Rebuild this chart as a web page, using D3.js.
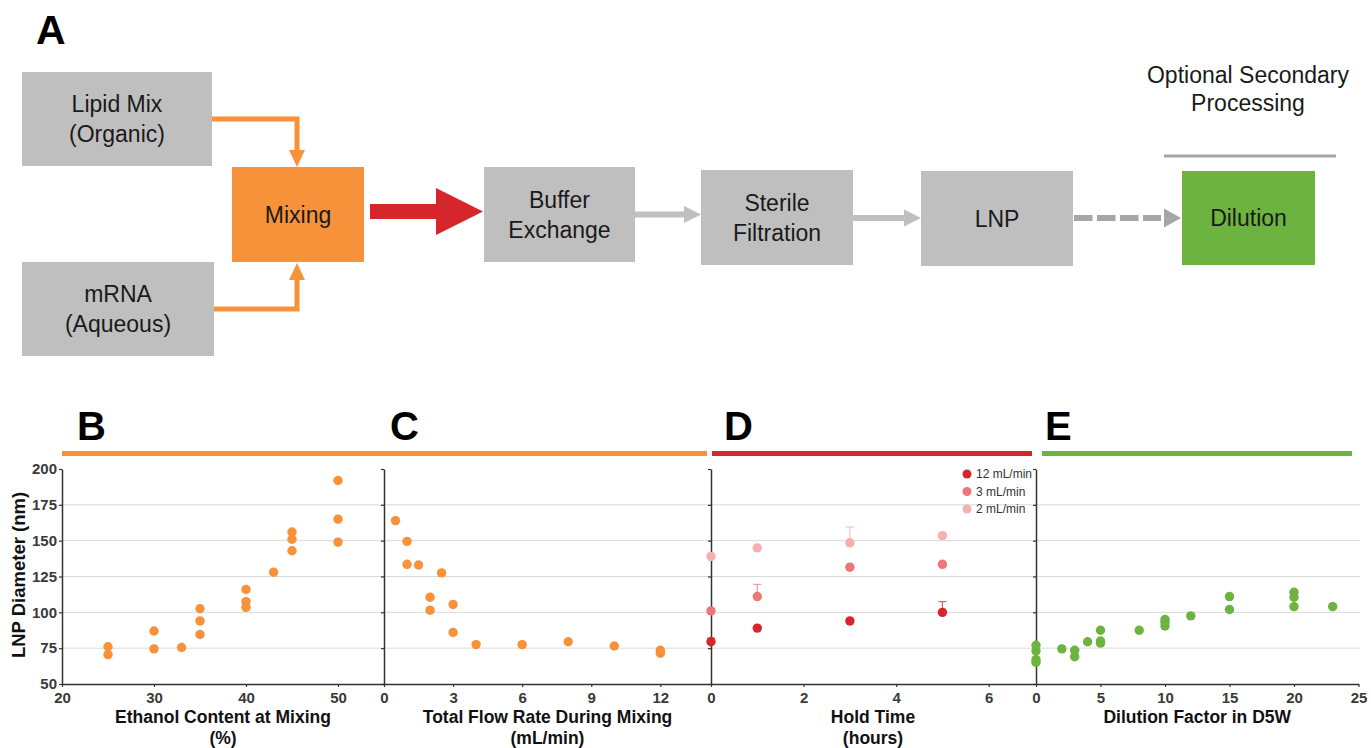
<!DOCTYPE html>
<html>
<head>
<meta charset="utf-8">
<script src="https://cdn.jsdelivr.net/npm/d3@7"></script>
<style>
  body { margin: 0; background: #fff; }
  svg text { font-family: "Liberation Sans", Arial, sans-serif; }
</style>
</head>
<body>
<div id="chart"></div>
<script>
// --- Panel B : ethanol content
var ethanolX = [25, 25, 30, 30, 33, 35, 35, 35, 40, 40, 40, 43, 45, 45, 45, 50, 50, 50];
var ethanolY = [76, 70.5, 87, 74.5, 75.5, 102.5, 94, 84.5, 116, 107.5, 103.5, 128, 156, 151, 143, 192, 165, 149];

// --- Panel C : total flow rate
var flowX = [0.5, 1, 1, 1.5, 2.5, 2, 2, 3, 3, 4, 6, 8, 10, 12, 12];
var flowY = [164, 149.5, 133.5, 133, 127.5, 110.5, 101.5, 105.5, 86, 77.5, 77.5, 79.5, 76.5, 73.5, 71.5];

// --- Panel D : hold time, three flow rates
var holdTimes = [0, 1, 3, 5];
var holdSeries = ['12 mL/min', '3 mL/min', '2 mL/min'];
var hold12 = [79.5, 89, 94, 100];
var hold3 = [101, 111, 131.5, 133.5];
var hold2 = [139, 145, 148.5, 153.5];
var holdErr12 = [2.5, 0, 0, 7.5];
var holdErr3 = [0, 8.5, 0, 0];
var holdErr2 = [0, 0, 11, 0];

// --- Panel E : dilution factor
var dilutionX = [0, 0, 0, 0, 2, 3, 3, 4, 5, 5, 5, 8, 10, 10, 10, 12, 15, 15, 20, 20, 20, 23];
var dilutionY = [77, 73, 67, 65, 74.5, 73.5, 69, 79.5, 87.5, 80, 78.5, 87.5, 95, 93, 90.5, 97.5, 111, 102, 114, 110.5, 104, 104];

// --- Ticks and labels
var yTicks = [50, 75, 100, 125, 150, 175, 200];
var ticksB = [20, 30, 40, 50];
var ticksC = [0, 3, 6, 9, 12];
var ticksD = [0, 2, 4, 6];
var ticksE = [0, 5, 10, 15, 20, 25];
var panelLetters = ['B', 'C', 'D', 'E'];
var xTitles = [
  ['Ethanol Content at Mixing', '(%)'],
  ['Total Flow Rate During Mixing', '(mL/min)'],
  ['Hold Time', '(hours)'],
  ['Dilution Factor in D5W']
];

// --- Flow diagram labels
var diagramSteps = [
  ['Lipid Mix', '(Organic)'], ['mRNA', '(Aqueous)'], ['Mixing'],
  ['Buffer', 'Exchange'], ['Sterile', 'Filtration'], ['LNP'], ['Dilution']
];
var optionalLabel = ['Optional Secondary', 'Processing'];

var ORANGE = '#f7923a', RED = '#d7262b', GREEN = '#6db33f', GREY = '#bfbfbf';
var holdColors = ['#d7262b', '#ee7676', '#f6b0b0'];

var width = 1371, height = 748;
var svg = d3.select('#chart').append('svg')
  .attr('width', width)
  .attr('height', height);

// =========================== Diagram (A) ===========================
svg.append('text').text('A')
  .attr('x', 36).attr('y', 44)
  .style('font-size', '41px').style('font-weight', 'bold');

// box layout: x, y, w, h, fill
var boxLayout = [
  [22, 72, 190, 94, GREY],
  [22, 262, 192, 94, GREY],
  [232, 167, 132, 95, ORANGE],
  [484, 167, 151, 95, GREY],
  [701, 170, 152, 95, GREY],
  [921, 171, 152, 95, GREY],
  [1182, 171, 133, 94, GREEN]
];

var boxes = svg.append('g').selectAll('g').data(diagramSteps).enter().append('g');
boxes.append('rect')
  .attr('x', function(d, i) { return boxLayout[i][0]; })
  .attr('y', function(d, i) { return boxLayout[i][1]; })
  .attr('width', function(d, i) { return boxLayout[i][2]; })
  .attr('height', function(d, i) { return boxLayout[i][3]; })
  .attr('fill', function(d, i) { return boxLayout[i][4]; });
boxes.each(function(d, i) {
  var b = boxLayout[i];
  var cx = b[0] + b[2] / 2, cy = b[1] + b[3] / 2;
  var g = d3.select(this);
  d.forEach(function(line, j) {
    var off = d.length === 1 ? 0 : (j === 0 ? -15 : 15);
    g.append('text').text(line)
      .attr('x', cx).attr('y', cy + off + 8)
      .attr('text-anchor', 'middle')
      .attr('fill', '#1a1a1a')
      .style('font-size', '23px');
  });
});

// orange connectors into the mixer
var conn = svg.append('g');
conn.append('path').attr('d', 'M212,119H297V151')
  .attr('fill', 'none').attr('stroke', ORANGE).attr('stroke-width', 5);
conn.append('path').attr('d', 'M289,150L305,150L297,167Z').attr('fill', ORANGE);
conn.append('path').attr('d', 'M214,309H297V279')
  .attr('fill', 'none').attr('stroke', ORANGE).attr('stroke-width', 5);
conn.append('path').attr('d', 'M289,280L305,280L297,263Z').attr('fill', ORANGE);

// red block arrow
conn.append('path')
  .attr('d', 'M370,204H436V188L483,211.5L436,235V219H370Z')
  .attr('fill', RED);

// grey arrows
function greyArrow(x0, x1, y, color) {
  conn.append('rect').attr('x', x0).attr('y', y - 3).attr('width', x1 - x0 - 16).attr('height', 6).attr('fill', color);
  conn.append('path').attr('d', 'M' + (x1 - 17) + ',' + (y - 8.5) + 'L' + x1 + ',' + y + 'L' + (x1 - 17) + ',' + (y + 8.5) + 'Z').attr('fill', color);
}
greyArrow(635, 701, 214.5, '#c0c0c0');
greyArrow(853, 921, 218, '#c0c0c0');

// dashed arrow to dilution
conn.append('line')
  .attr('x1', 1074).attr('x2', 1161).attr('y1', 218).attr('y2', 218)
  .attr('stroke', '#a6a6a6').attr('stroke-width', 6)
  .attr('stroke-dasharray', '18.5,4.5');
conn.append('path').attr('d', 'M1164,208.5L1181,218L1164,227.5Z').attr('fill', '#a6a6a6');

// optional processing header
conn.append('line')
  .attr('x1', 1164).attr('x2', 1336).attr('y1', 156).attr('y2', 156)
  .attr('stroke', '#a6a6a6').attr('stroke-width', 3);
optionalLabel.forEach(function(t, j) {
  conn.append('text').text(t)
    .attr('x', 1248).attr('y', 83 + j * 28)
    .attr('text-anchor', 'middle')
    .attr('fill', '#1a1a1a')
    .style('font-size', '23px');
});

// =========================== Plots (B-E) ===========================
var y = d3.scaleLinear().domain([50, 200]).range([684, 469]);

var xB = d3.scaleLinear().domain([20, 55]).range([62, 384]);
var xC = d3.scaleLinear().domain([0, 14.2]).range([384, 711]);
var xD = d3.scaleLinear().domain([0, 7]).range([711, 1035]);
var xE = d3.scaleLinear().domain([0, 25]).range([1036, 1358.5]);
var panels = [
  { x: xB, ticks: ticksB, color: ORANGE },
  { x: xC, ticks: ticksC, color: ORANGE },
  { x: xD, ticks: ticksD, color: RED },
  { x: xE, ticks: ticksE, color: GREEN }
];

// --- gridlines, full width
svg.append('g').selectAll('line').data(yTicks.slice(1, -1)).enter().append('line')
  .attr('x1', 62).attr('x2', 1360)
  .attr('y1', function(d) { return y(d); })
  .attr('y2', function(d) { return y(d); })
  .attr('stroke', '#d9d9d9').attr('stroke-width', 1);

// --- coloured section bars
var bars = [[62, 707, ORANGE], [712, 1032, RED], [1042, 1352, GREEN]];
svg.append('g').selectAll('rect').data(bars).enter().append('rect')
  .attr('x', function(d) { return d[0]; })
  .attr('width', function(d) { return d[1] - d[0]; })
  .attr('y', 451).attr('height', 5)
  .attr('fill', function(d) { return d[2]; });

// --- panel letters
var letterX = [77, 390, 724, 1045];
svg.append('g').selectAll('text').data(panelLetters).enter().append('text')
  .text(function(d) { return d; })
  .attr('x', function(d, i) { return letterX[i]; })
  .attr('y', 440)
  .style('font-size', '40px').style('font-weight', 'bold');

// --- axes
function styleAxis(g) {
  g.select('.domain').attr('stroke', '#333').attr('stroke-width', 1.5);
  g.selectAll('.tick line').attr('stroke', '#333').attr('stroke-width', 1.2);
  g.selectAll('.tick text')
    .attr('fill', '#3a3a3a')
    .style('font-size', '15px').style('font-weight', 'bold')
    .style('font-family', '"Liberation Sans", Arial, sans-serif');
}

var fmt = d3.format('d');
panels.forEach(function(p, i) {
  var xa = svg.append('g')
    .attr('transform', 'translate(0,' + y(50) + ')')
    .call(d3.axisBottom(p.x).tickValues(p.ticks).tickFormat(fmt).tickSize(3).tickPadding(5).tickSizeOuter(0));
  styleAxis(xa);

  var ya = svg.append('g')
    .attr('transform', 'translate(' + p.x(p.x.domain()[0]) + ',0)')
    .call(d3.axisLeft(y).tickValues(yTicks).tickFormat(fmt).tickSize(3).tickPadding(2).tickSizeOuter(0));
  styleAxis(ya);
  if (i > 0) ya.selectAll('.tick text').remove();

  var cx = (p.x.range()[0] + p.x.range()[1]) / 2;
  xTitles[i].forEach(function(t, j) {
    svg.append('text').text(t)
      .attr('x', cx).attr('y', 723 + j * 21)
      .attr('text-anchor', 'middle')
      .attr('fill', '#111')
      .style('font-size', '17.5px').style('font-weight', 'bold');
  });
});

svg.append('text').text('LNP Diameter (nm)')
  .attr('transform', 'translate(25,575) rotate(-90)')
  .attr('text-anchor', 'middle')
  .attr('fill', '#111')
  .style('font-size', '18.5px').style('font-weight', 'bold');

// --- scatter helper
var R = 4.7;
function dots(xs, ys, xScale, color) {
  svg.append('g').selectAll('circle').data(xs).enter().append('circle')
    .attr('cx', function(d) { return xScale(d); })
    .attr('cy', function(d, i) { return y(ys[i]); })
    .attr('r', R)
    .attr('fill', color);
}

dots(ethanolX, ethanolY, xB, ORANGE);
dots(flowX, flowY, xC, ORANGE);
dots(dilutionX, dilutionY, xE, GREEN);

// --- hold time series with upper error bars
var holdVals = [hold12, hold3, hold2];
var holdErrs = [holdErr12, holdErr3, holdErr2];
holdVals.forEach(function(vals, s) {
  var g = svg.append('g');
  holdTimes.forEach(function(t, k) {
    var e = holdErrs[s][k];
    if (e > 0) {
      var cx = xD(t), top = y(vals[k] + e);
      g.append('line').attr('x1', cx).attr('x2', cx)
        .attr('y1', y(vals[k])).attr('y2', top)
        .attr('stroke', holdColors[s]).attr('stroke-opacity', 0.7).attr('stroke-width', 1.3);
      g.append('line').attr('x1', cx - 4).attr('x2', cx + 4)
        .attr('y1', top).attr('y2', top)
        .attr('stroke', holdColors[s]).attr('stroke-opacity', 0.7).attr('stroke-width', 1.3);
    }
  });
  dots(holdTimes, vals, xD, holdColors[s]);
});

// --- legend
var legend = svg.append('g').selectAll('g').data(holdSeries).enter().append('g')
  .attr('transform', function(d, i) { return 'translate(967,' + (474 + i * 17.5) + ')'; });
legend.append('circle').attr('r', 4.5).attr('fill', function(d, i) { return holdColors[i]; });
legend.append('text').text(function(d) { return d; })
  .attr('x', 9).attr('y', 4.3)
  .attr('fill', '#333')
  .style('font-size', '12px');
</script>
</body>
</html>
